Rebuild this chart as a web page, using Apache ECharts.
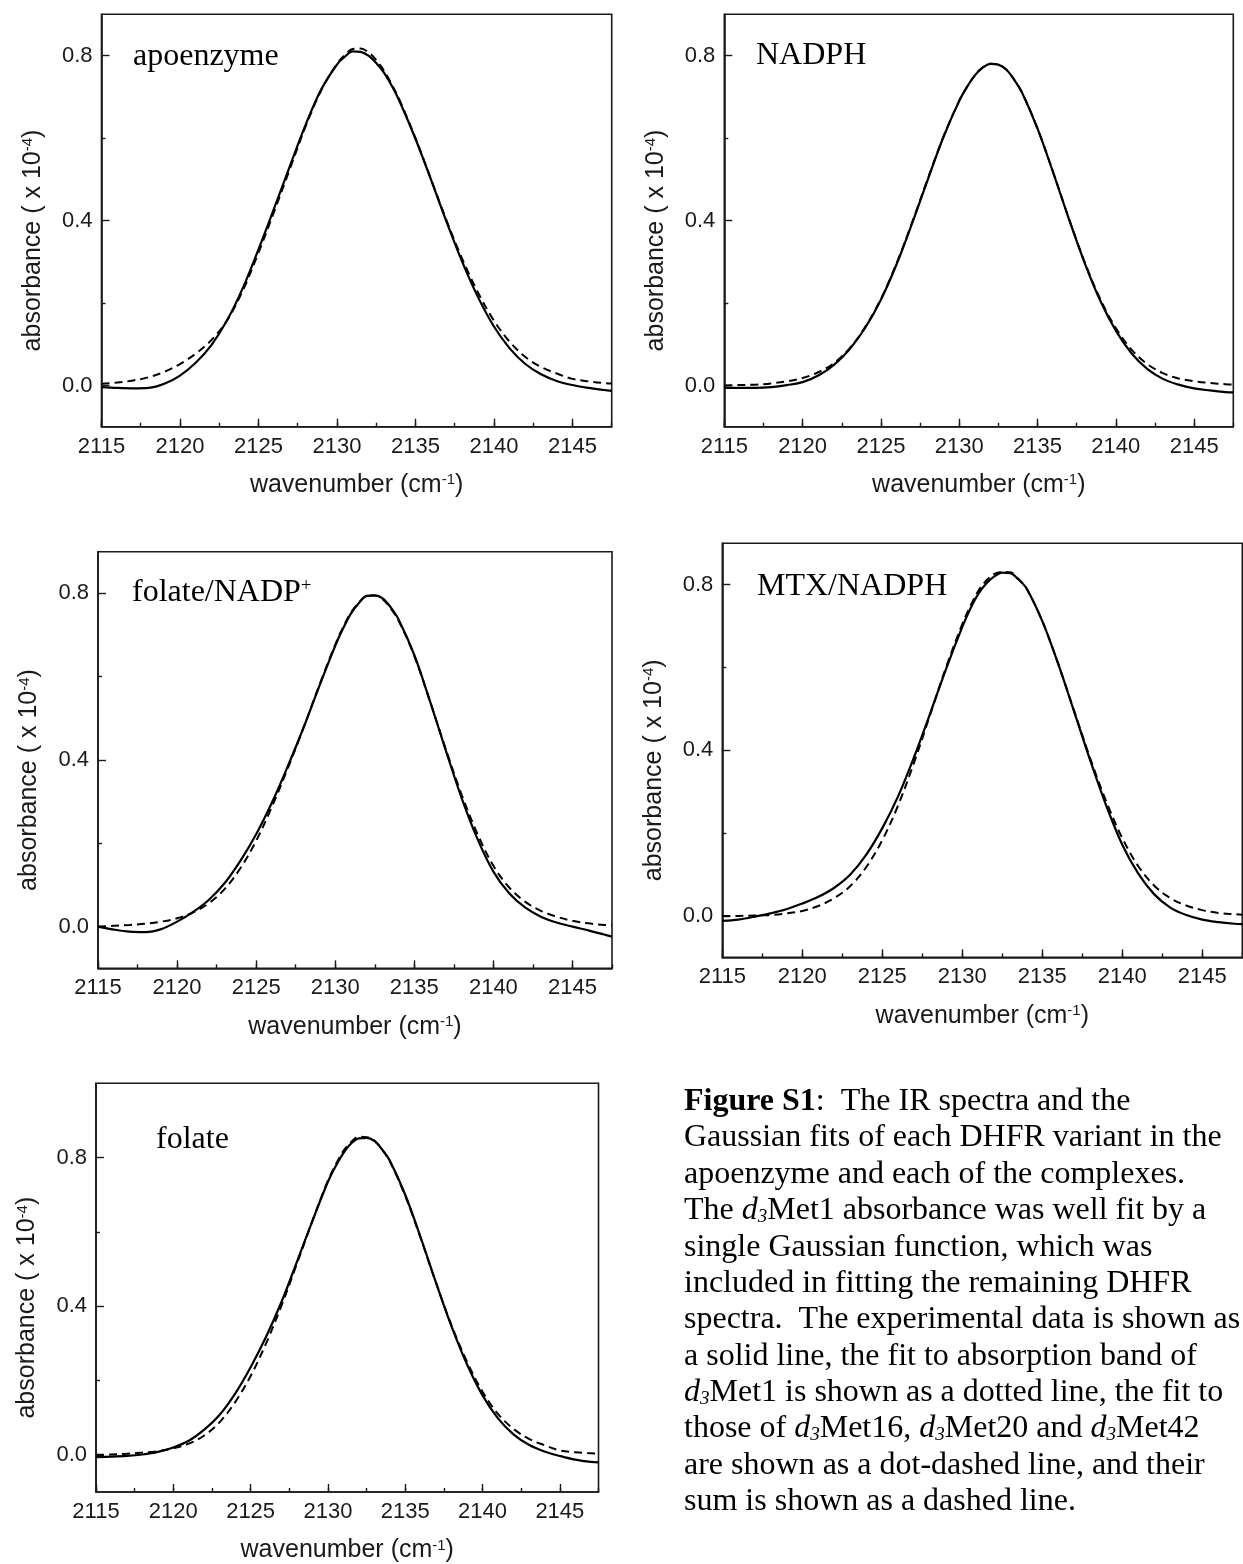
<!DOCTYPE html>
<html><head><meta charset="utf-8">
<script src="https://cdn.jsdelivr.net/npm/echarts@6/dist/echarts.min.js"></script>
<style>html,body{margin:0;padding:0;background:#fff}#c{width:1243px;height:1564px}</style>
</head><body><div id="c"></div>
<script>
// ---------- data ----------
const wavenumbers = [2115,2116,2117,2118,2119,2120,2121,2122,2123,2124,2125,2126,2127,2128,2129,2130,
  2130.5,2131,2131.5,2132,2132.5,2133,2133.5,
  2134,2135,2136,2137,2138,2139,2140,2141,2142,2143,2144,2145,2146,2147,2147.5];

const apoExp = [-0.004,-0.006,-0.007,-0.006,0.004,0.024,0.055,0.098,0.158,0.236,0.330,0.430,0.532,0.632,0.718,0.778,
  0.797,0.810,0.809,0.800,0.782,0.758,0.726,
  0.688,0.598,0.498,0.395,0.298,0.213,0.143,0.090,0.052,0.027,0.011,0.001,-0.006,-0.011,-0.013];
const apoFit = [0.004,0.007,0.012,0.020,0.033,0.052,0.077,0.110,0.158,0.230,0.322,0.422,0.525,0.628,0.716,0.780,
  0.801,0.816,0.817,0.808,0.789,0.763,0.729,
  0.691,0.600,0.499,0.398,0.305,0.224,0.157,0.106,0.069,0.045,0.029,0.016,0.010,0.006,0.005];

const nadphExp = [-0.006,-0.006,-0.006,-0.004,0.001,0.008,0.024,0.050,0.088,0.140,0.208,0.294,0.394,0.500,0.603,0.690,
  0.724,0.752,0.771,0.780,0.778,0.766,0.742,
  0.711,0.623,0.516,0.404,0.298,0.206,0.133,0.078,0.040,0.016,0.002,-0.007,-0.012,-0.016,-0.017];
const nadphFit = [0.000,0.001,0.002,0.005,0.010,0.018,0.032,0.054,0.090,0.142,0.210,0.296,0.396,0.502,0.604,0.690,
  0.724,0.752,0.771,0.780,0.778,0.766,0.742,
  0.711,0.623,0.517,0.405,0.300,0.210,0.139,0.087,0.052,0.030,0.017,0.010,0.006,0.003,0.002];

const folNadpExp = [0.000,-0.007,-0.012,-0.013,-0.006,0.012,0.035,0.064,0.104,0.158,0.222,0.298,0.385,0.478,0.578,0.674,
  0.716,0.752,0.777,0.794,0.795,0.788,0.767,
  0.738,0.652,0.540,0.422,0.308,0.210,0.132,0.080,0.046,0.024,0.010,0.000,-0.009,-0.019,-0.024];
const folNadpFit = [0.000,0.002,0.004,0.007,0.012,0.020,0.034,0.056,0.090,0.140,0.206,0.288,0.380,0.478,0.580,0.677,
  0.719,0.754,0.778,0.794,0.795,0.786,0.764,
  0.735,0.650,0.540,0.425,0.316,0.222,0.146,0.094,0.060,0.038,0.024,0.014,0.008,0.004,0.003];

const mtxExp = [-0.012,-0.009,-0.002,0.006,0.016,0.030,0.046,0.068,0.100,0.148,0.212,0.290,0.385,0.490,0.598,0.698,
  0.742,0.778,0.803,0.820,0.829,0.828,0.813,
  0.792,0.712,0.608,0.492,0.375,0.266,0.172,0.102,0.052,0.020,0.002,-0.009,-0.015,-0.019,-0.020];
const mtxFit = [0.000,0.000,0.001,0.002,0.006,0.012,0.024,0.043,0.072,0.118,0.183,0.268,0.372,0.487,0.602,0.705,
  0.748,0.785,0.810,0.826,0.831,0.830,0.814,
  0.792,0.712,0.608,0.494,0.380,0.276,0.188,0.120,0.073,0.043,0.025,0.014,0.007,0.004,0.003];

const folExp = [-0.006,-0.005,-0.003,0.001,0.008,0.020,0.038,0.068,0.108,0.165,0.236,0.318,0.412,0.520,0.630,0.735,
  0.777,0.812,0.838,0.852,0.853,0.845,0.822,
  0.792,0.700,0.585,0.462,0.345,0.243,0.160,0.098,0.055,0.027,0.009,-0.003,-0.013,-0.019,-0.020];
const folFit = [0.000,0.001,0.003,0.006,0.010,0.018,0.030,0.052,0.088,0.142,0.212,0.300,0.402,0.515,0.630,0.738,
  0.781,0.818,0.842,0.856,0.855,0.846,0.822,
  0.790,0.697,0.583,0.462,0.348,0.250,0.170,0.110,0.070,0.043,0.026,0.012,0.007,0.004,0.003];

const yLabelTicks = [0, 0.4, 0.8];
const yMinorTicks = [0.2, 0.6];
const xMin = 2115, xMax = 2147.5, xLabelStep = 5, xMinorStep = 2.5;

const panelNames = ['apoenzyme', 'NADPH', 'folate/NADP{sup|+}', 'MTX/NADPH', 'folate'];
const panelExp = [apoExp, nadphExp, folNadpExp, mtxExp, folExp];
const panelFit = [apoFit, nadphFit, folNadpFit, mtxFit, folFit];
const panelYMax = [0.9, 0.9, 0.9, 0.9, 1.0];

const captionLines = [
  '{b|Figure S1}:  The IR spectra and the',
  'Gaussian fits of each DHFR variant in the',
  'apoenzyme and each of the complexes.',
  'The {i|d}{sub|3}Met1 absorbance was well fit by a',
  'single Gaussian function, which was',
  'included in fitting the remaining DHFR',
  'spectra.  The experimental data is shown as',
  'a solid line, the fit to absorption band of',
  '{i|d}{sub|3}Met1 is shown as a dotted line, the fit to',
  'those of {i|d}{sub|3}Met16, {i|d}{sub|3}Met20 and {i|d}{sub|3}Met42',
  'are shown as a dot-dashed line, and their',
  'sum is shown as a dashed line.'
];

// ---------- layout ----------
const layout = [
  {left: 101.5, top: 14.3, width: 510.2, height: 412.4, labelX: 133, labelY: 57},
  {left: 724.3, top: 14.3, width: 509, height: 412.4, labelX: 756, labelY: 56},
  {left: 98, top: 551.7, width: 514, height: 416.6, labelX: 132, labelY: 593},
  {left: 722.3, top: 543.3, width: 520, height: 414, labelX: 757, labelY: 587},
  {left: 96, top: 1083.3, width: 502.5, height: 409, labelX: 156, labelY: 1140}
];

const INK = '#1a1a1a';
const SANS = '"Liberation Sans", Arial, sans-serif';
const SERIF = '"Liberation Serif", "Times New Roman", serif';

const grids = [], xAxes = [], yAxes = [], series = [], graphics = [];
layout.forEach((L, i) => {
  grids.push({left: L.left, top: L.top, width: L.width, height: L.height, show: true,
    borderColor: INK, borderWidth: 1.6, backgroundColor: 'transparent', containLabel: false});
  xAxes.push({
    gridIndex: i, type: 'value', position: 'bottom', min: xMin, max: xMax, interval: xLabelStep,
    axisLine: {show: true, onZero: false, lineStyle: {color: INK, width: 1.6}},
    axisTick: {show: true, inside: true, length: 8, lineStyle: {color: INK, width: 1.4}},
    axisLabel: {show: true, fontSize: 22, fontFamily: SANS, color: INK, margin: 9, showMaxLabel: false,
      formatter: v => String(v)},
    splitLine: {show: false},
    name: 'wavenumber (cm{sup|-1})', nameLocation: 'middle', nameGap: 46,
    nameTextStyle: {fontSize: 25, fontFamily: SANS, color: INK,
      rich: {sup: {fontSize: 15, fontFamily: SANS, color: INK, verticalAlign: 'top'}}}
  });
  xAxes.push({
    gridIndex: i, type: 'value', position: 'bottom', min: xMin, max: xMax, interval: xMinorStep,
    axisLine: {show: false, onZero: false}, axisLabel: {show: false}, splitLine: {show: false},
    axisTick: {show: true, inside: true, length: 4, lineStyle: {color: INK, width: 1.4}}
  });
  yAxes.push({
    gridIndex: i, type: 'value', position: 'left', min: -0.1, max: panelYMax[i],
    axisLine: {show: true, onZero: false, lineStyle: {color: INK, width: 1.6}},
    axisTick: {show: true, inside: true, length: 8, customValues: yLabelTicks, lineStyle: {color: INK, width: 1.4}},
    axisLabel: {show: true, customValues: yLabelTicks, formatter: v => Number(v).toFixed(1),
      fontSize: 22, fontFamily: SANS, color: INK, margin: 9},
    splitLine: {show: false},
    name: 'absorbance ( x 10{sup|-4})', nameLocation: 'middle', nameGap: 56, nameRotate: 90,
    nameTextStyle: {fontSize: 25, fontFamily: SANS, color: INK, padding: [0, 40, 0, 0],
      rich: {sup: {fontSize: 15, fontFamily: SANS, color: INK, verticalAlign: 'top'}}}
  });
  yAxes.push({
    gridIndex: i, type: 'value', position: 'left', min: -0.1, max: panelYMax[i],
    axisLine: {show: false, onZero: false}, axisLabel: {show: false}, splitLine: {show: false},
    axisTick: {show: true, inside: true, length: 4, customValues: yMinorTicks, lineStyle: {color: INK, width: 1.4}}
  });
  series.push({
    type: 'line', xAxisIndex: 2 * i, yAxisIndex: 2 * i, showSymbol: false, smooth: 0.35,
    data: wavenumbers.map((x, j) => [x, panelFit[i][j]]),
    lineStyle: {color: '#000', width: 2, type: [8, 5]}, z: 2
  });
  series.push({
    type: 'line', xAxisIndex: 2 * i, yAxisIndex: 2 * i, showSymbol: false, smooth: 0.35,
    data: wavenumbers.map((x, j) => [x, panelExp[i][j]]),
    lineStyle: {color: '#000', width: 2.2}, z: 3
  });
  graphics.push({
    type: 'text', x: L.labelX, y: L.labelY, z: 10,
    style: {text: panelNames[i], fontSize: 32, fontFamily: SERIF, fill: '#000', verticalAlign: 'middle',
      rich: {sup: {fontSize: 19, fontFamily: SERIF, fill: '#000', verticalAlign: 'top'}}}
  });
});

captionLines.forEach((t, k) => {
  graphics.push({
    type: 'text', x: 684, y: 1101.7 + k * 36.36, z: 10,
    style: {text: t, fontSize: 32, fontFamily: SERIF, fill: '#000', verticalAlign: 'middle',
      rich: {
        b: {fontSize: 32, fontFamily: SERIF, fontWeight: 'bold', fill: '#000'},
        i: {fontSize: 32, fontFamily: SERIF, fontStyle: 'italic', fill: '#000'},
        sub: {fontSize: 19, fontFamily: SERIF, fontStyle: 'italic', fill: '#000', verticalAlign: 'bottom'}
      }}
  });
});

const chart = echarts.init(document.getElementById('c'), null, {renderer: 'canvas'});
chart.setOption({
  animation: false,
  backgroundColor: '#fff',
  grid: grids, xAxis: xAxes, yAxis: yAxes, series: series, graphic: graphics
});
</script></body></html>
